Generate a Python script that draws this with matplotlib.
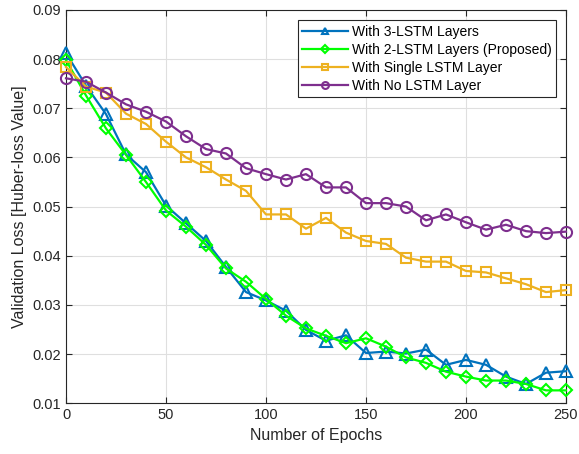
import matplotlib
matplotlib.use("Agg")
import matplotlib.pyplot as plt
from matplotlib.legend_handler import HandlerLine2D
import numpy as np

plt.rcParams['font.family'] = ['Liberation Sans', 'DejaVu Sans']

epochs = list(range(0, 251, 10))
lstm3 = [0.0812, 0.0746, 0.0688, 0.0606, 0.0570, 0.0502, 0.0466, 0.0430, 0.0377, 0.0326,
         0.0309, 0.0288, 0.0249, 0.0227, 0.0238, 0.0202, 0.0205, 0.0201, 0.0209, 0.0178,
         0.0188, 0.0178, 0.0154, 0.0139, 0.0162, 0.0165]
lstm2 = [0.0798, 0.0726, 0.0659, 0.0605, 0.0550, 0.0492, 0.0459, 0.0422, 0.0374, 0.0347,
         0.0312, 0.0278, 0.0252, 0.0237, 0.0222, 0.0232, 0.0215, 0.0193, 0.0182, 0.0164,
         0.0154, 0.0146, 0.0146, 0.0139, 0.0126, 0.0126]
lstm1 = [0.0784, 0.0744, 0.0732, 0.0689, 0.0668, 0.0632, 0.0600, 0.0580, 0.0555, 0.0532,
         0.0484, 0.0484, 0.0455, 0.0477, 0.0447, 0.0430, 0.0424, 0.0396, 0.0388, 0.0388,
         0.0369, 0.0366, 0.0354, 0.0342, 0.0326, 0.0330]
lstm0 = [0.0761, 0.0754, 0.0732, 0.0708, 0.0693, 0.0673, 0.0643, 0.0617, 0.0608, 0.0578,
         0.0566, 0.0555, 0.0566, 0.0539, 0.0539, 0.0507, 0.0507, 0.0500, 0.0472, 0.0484,
         0.0468, 0.0453, 0.0463, 0.0450, 0.0446, 0.0449]

labels = ['With 3-LSTM Layers', 'With 2-LSTM Layers (Proposed)',
          'With Single LSTM Layer', 'With No LSTM Layer']
xticks = [0, 50, 100, 150, 200, 250]
yticks = [0.01, 0.02, 0.03, 0.04, 0.05, 0.06, 0.07, 0.08, 0.09]

fig = plt.figure(figsize=(5.79, 4.54), dpi=100)
ax = fig.add_axes([0.114, 0.112, 0.8635, 0.866])

styles = [
    (lstm3, '#0072BD', '^', 8),
    (lstm2, '#00FF00', 'D', 6.5),
    (lstm1, '#EDB120', 's', 7),
    (lstm0, '#7E2F8E', 'o', 8),
]
for (vals, col, mk, ms), lab in zip(styles, labels):
    ax.plot(epochs, vals, color=col, marker=mk, markersize=ms, markerfacecolor='none',
            markeredgecolor=col, markeredgewidth=1.5, linewidth=1.6, label=lab,
            clip_on=False, zorder=3)

ax.set_xlim(0, 250)
ax.set_ylim(0.01, 0.09)
ax.set_xticks(xticks)
ax.set_yticks(yticks)
ax.set_yticklabels([f'{v:.2f}' for v in yticks])
ax.grid(True, color='#DFDFDF', linewidth=0.8)
ax.set_axisbelow(True)
ax.tick_params(direction='in', top=True, right=True, labelsize=10.5, colors='#262626',
               length=4)
for sp in ax.spines.values():
    sp.set_color('#262626')
    sp.set_linewidth(0.8)
ax.set_xlabel('Number of Epochs', fontsize=11.5, color='#262626')
ax.set_ylabel('Validation Loss [Huber-loss Value]', fontsize=11.5, color='#262626')


def small_marker(legline, orig):
    legline.update_from(orig)
    legline.set_markersize(orig.get_markersize() * 0.62)


leg = ax.legend(loc='upper right', bbox_to_anchor=(1.0, 1.0), fontsize=10,
                frameon=True, fancybox=False, edgecolor='#262626', framealpha=1,
                handlelength=3.3, borderpad=0.3, labelspacing=0.3, handletextpad=0.25,
                borderaxespad=0.75,
                handler_map={l: HandlerLine2D(update_func=small_marker) for l in ax.get_lines()})
leg.get_frame().set_linewidth(0.8)
leg.set_zorder(5)

fig.savefig('out.png', dpi=100)
